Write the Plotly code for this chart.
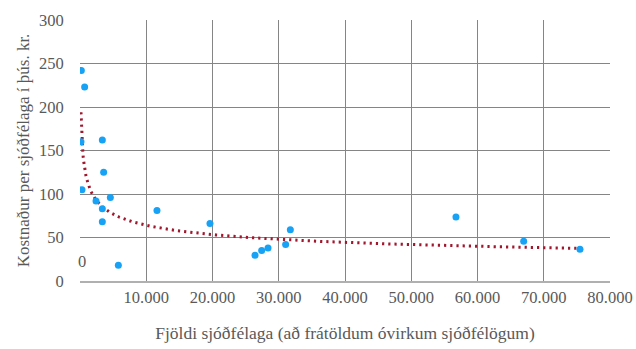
import numpy as np
import plotly.graph_objects as go

# Data: number of fund members vs. cost per member (thous. kr.)
members = [200, 700, 150, 3370, 3570, 300, 2420, 4580, 3370, 3370, 5790,
           11620, 19620, 26420, 27420, 28380, 31040, 31750, 56750, 66970, 75470]
cost = [242, 223, 160, 162, 125, 105, 92, 96, 83, 68, 18,
        81, 66, 29.5, 35, 38, 42, 59, 73.6, 45.6, 36.4]

x_tickvals = [10000, 20000, 30000, 40000, 50000, 60000, 70000, 80000]
x_ticktext = ["10.000", "20.000", "30.000", "40.000", "50.000", "60.000", "70.000", "80.000"]
y_tickvals = [0, 50, 100, 150, 200, 250, 300]

x_title = "Fjöldi sjóðfélaga (að frátöldum óvirkum sjóðfélögum)"
y_title = "Kostnaður per sjóðfélaga í þús. kr."

# Power trendline (as in a spreadsheet: y = a * x^b), least squares on logs
xa = np.array(members, dtype=float)
ya = np.array(cost, dtype=float)
b, loga = np.polyfit(np.log(xa), np.log(ya), 1)
a = np.exp(loga)
tx = np.linspace(xa.min(), xa.max(), 800)
ty = a * tx ** b

font_family = "Liberation Serif, DejaVu Serif, serif"
gray = "#595959"

fig = go.Figure()
fig.add_trace(go.Scatter(
    x=tx, y=ty, mode="lines",
    line=dict(color="#A0182E", width=3, dash="2.2px,4px"),
    hoverinfo="skip", showlegend=False,
))
fig.add_trace(go.Scatter(
    x=members, y=cost, mode="markers",
    marker=dict(color="#17A2F6", size=7),
    showlegend=False,
))

fig.update_layout(
    width=636, height=349,
    margin=dict(l=80, r=26, t=20, b=68),
    paper_bgcolor="white", plot_bgcolor="white",
    font=dict(family=font_family, size=16.5, color=gray),
    xaxis=dict(
        range=[0, 80000], tickvals=x_tickvals, ticktext=x_ticktext,
        showgrid=True, gridcolor="#858585", gridwidth=1,
        showline=True, linecolor="#b0b0b0", linewidth=1.5,
        zeroline=False, ticks="", automargin=False,
        title=dict(text=x_title, standoff=21, font=dict(size=17.5, color=gray)),
        tickfont=dict(size=16.5, color=gray),
    ),
    yaxis=dict(
        range=[0, 300], tickvals=y_tickvals, automargin=False,
        showgrid=True, gridcolor="#858585", gridwidth=1,
        zeroline=False, showline=False, ticks="outside", ticklen=12, tickcolor="rgba(0,0,0,0)",
        title=dict(text=y_title, standoff=5, font=dict(size=17, color=gray)),
        tickfont=dict(size=16.5, color=gray),
    ),
    annotations=[dict(
        text="0", x=0, y=22, xref="x", yref="y", showarrow=False,
        xanchor="left", xshift=-4, font=dict(size=16.5, color=gray),
    )],
)

fig.write_html(
    "out.html",
    config={"displayModeBar": False},
    post_script="document.body.style.margin='0';document.body.style.overflow='hidden';",
)
